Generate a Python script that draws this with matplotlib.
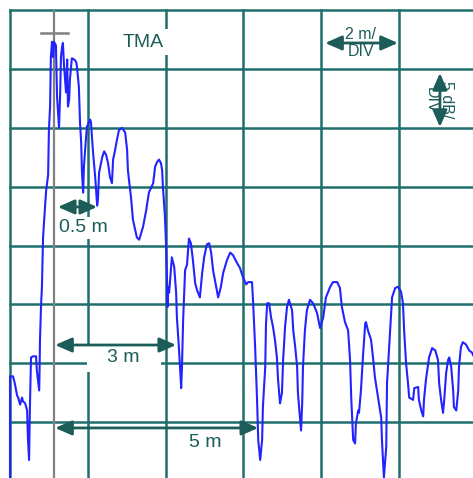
import matplotlib
matplotlib.use("Agg")
import matplotlib.pyplot as plt
from matplotlib.patches import Rectangle

plt.rcParams['font.family'] = ['Liberation Sans', 'DejaVu Sans']

# Trace data: distance (m) vs level (dB, 0 = top grid line)
distance_m = [0.00, 0.00, 0.08, 0.13, 0.18, 0.21, 0.26, 0.31, 0.33, 0.39, 0.44, 0.46, 0.49, 0.51, 0.54,
              0.59, 0.67, 0.69, 0.75, 0.76, 0.77, 0.80, 0.82, 0.85, 0.90, 0.93, 0.98, 1.00, 1.03, 1.05,
              1.08, 1.11, 1.13, 1.18, 1.21, 1.26, 1.29, 1.31, 1.34, 1.36, 1.39, 1.44, 1.47, 1.49, 1.52,
              1.54, 1.59, 1.65, 1.70, 1.72, 1.77, 1.80, 1.83, 1.85, 1.88, 1.90, 1.95, 1.98, 2.06, 2.08,
              2.13, 2.19, 2.24, 2.26, 2.29, 2.37, 2.42, 2.47, 2.52, 2.57, 2.62, 2.65, 2.70, 2.75, 2.80,
              2.88, 2.96, 3.01, 3.03, 3.11, 3.16, 3.26, 3.32, 3.42, 3.50, 3.57, 3.68, 3.73, 3.78, 3.83,
              3.88, 3.91, 3.93, 3.96, 3.98, 4.01, 4.04, 4.05, 4.06, 4.09, 4.14, 4.16, 4.22, 4.27, 4.29,
              4.34, 4.37, 4.40, 4.42, 4.45, 4.50, 4.55, 4.60, 4.65, 4.70, 4.76, 4.81, 4.88, 4.94, 4.99,
              5.06, 5.12, 5.17, 5.22, 5.30, 5.35, 5.42, 5.48, 5.58, 5.66, 5.73, 5.84, 5.91, 5.99, 6.07,
              6.12, 6.22, 6.25, 6.30, 6.35, 6.38, 6.43, 6.48, 6.50, 6.56, 6.58, 6.61, 6.66, 6.71, 6.76,
              6.81, 6.86, 6.89, 6.94, 6.99, 7.02, 7.07, 7.12, 7.17, 7.25, 7.28, 7.33, 7.38, 7.40, 7.48,
              7.51, 7.53, 7.58, 7.63, 7.71, 7.79, 7.89, 7.97, 8.05, 8.12, 8.23, 8.30, 8.41, 8.48, 8.53,
              8.61, 8.69, 8.74, 8.77, 8.82, 8.87, 8.89, 8.95, 8.97, 9.02, 9.07, 9.13, 9.15, 9.20, 9.28,
              9.33, 9.38, 9.46, 9.54, 9.56, 9.61, 9.67, 9.69, 9.74, 9.79, 9.82, 9.90, 9.97, 10.05, 10.10,
              10.13, 10.18, 10.23, 10.26, 10.36, 10.39, 10.49, 10.51, 10.57, 10.62, 10.64, 10.69, 10.75,
              10.77, 10.85, 10.93, 11.00, 11.03, 11.08, 11.13, 11.16, 11.21, 11.26, 11.29, 11.34, 11.39,
              11.41, 11.47, 11.52, 11.54, 11.59, 11.64, 11.72, 11.80, 11.88, 11.90]
level_db = [-39.7, -31.1, -31.1, -31.8, -32.7, -32.9, -33.5, -32.9, -33.2, -33.4, -34.0, -36.3, -38.2, -34.0, -29.5,
            -29.4, -29.4, -30.6, -32.3, -30.6, -28.1, -24.9, -23.6, -19.3, -16.7, -15.3, -14.0, -10.2, -8.2, -4.0,
            -2.7, -4.0, -2.7, -3.0, -7.4, -10.0, -7.0, -4.0, -3.1, -2.8, -4.8, -7.0, -4.2, -8.2, -7.6,
            -5.9, -4.1, -4.2, -4.4, -4.8, -6.5, -9.6, -11.3, -13.8, -15.5, -13.3, -11.0, -9.9, -9.3, -9.5,
            -11.9, -14.2, -16.6, -16.1, -13.8, -12.5, -12.0, -12.3, -13.0, -14.2, -14.7, -12.7, -11.9, -11.0, -10.2,
            -10.0, -10.4, -11.9, -13.6, -15.9, -17.8, -19.3, -19.5, -18.4, -17.0, -15.5, -14.7, -13.3, -12.9, -12.7,
            -13.0, -13.6, -15.0, -16.4, -17.4, -19.8, -23.5, -25.2, -23.5, -24.0, -21.8, -21.0, -21.8, -24.0, -26.1,
            -28.6, -30.3, -32.1, -30.3, -26.3, -22.1, -21.6, -19.4, -19.8, -21.2, -23.2, -23.8, -24.4, -22.3, -21.0,
            -19.9, -19.8, -20.6, -22.1, -23.5, -24.4, -23.5, -22.3, -21.2, -20.6, -20.8, -21.5, -21.9, -22.7, -23.3,
            -23.1, -23.1, -24.9, -28.6, -33.1, -36.5, -38.2, -36.5, -33.7, -30.3, -26.6, -24.9, -24.9, -26.1, -26.9,
            -28.0, -29.5, -31.4, -33.4, -32.5, -29.7, -26.9, -25.2, -24.6, -25.5, -27.2, -28.6, -30.3, -32.5, -35.7,
            -33.4, -30.3, -27.2, -25.5, -24.6, -24.9, -25.7, -27.0, -26.1, -24.4, -23.5, -23.1, -23.1, -23.6, -25.2,
            -26.5, -27.2, -29.7, -32.9, -36.5, -36.8, -35.1, -34.0, -34.2, -32.3, -29.5, -26.6, -26.5, -27.2, -28.0,
            -29.5, -31.2, -32.9, -34.6, -36.5, -39.7, -37.1, -31.7, -28.9, -26.1, -24.4, -23.6, -23.5, -23.9, -24.9,
            -27.2, -30.0, -31.7, -32.9, -33.1, -32.1, -32.0, -33.1, -34.0, -34.5, -33.1, -31.4, -30.0,
            -29.5, -28.7, -28.9, -29.7, -31.7, -33.1, -34.2, -33.1, -30.8, -29.7, -29.5, -30.3, -32.3,
            -33.7, -34.0, -32.3, -30.3, -28.6, -28.2, -28.4, -28.9, -29.1, -29.3]

x_grid_m = [0, 2, 4, 6, 8, 10]
y_grid_db = [0, -5, -10, -15, -20, -25, -30, -35]
marker_m = 1.13
marker_cap_db = -1.95

TEAL = '#1f6e6b'
TXT = '#1d5d59'

fig = plt.figure(figsize=(4.73, 4.78), dpi=100)
ax = fig.add_axes([10 / 473, 0, 463 / 473, 468 / 478])
ax.set_xlim(0, 11.90)
ax.set_ylim(-39.73, 0)
ax.axis('off')

for xv in x_grid_m:
    ax.axvline(xv, color=TEAL, lw=1.8, zorder=1, clip_on=False)
for yv in y_grid_db:
    ax.axhline(yv, color=TEAL, lw=1.8, zorder=1, clip_on=False)

# marker
ax.axvline(marker_m, color='#808080', lw=1.6, zorder=2)
ax.plot([marker_m - 0.33, marker_m + 0.36], [marker_cap_db, marker_cap_db], color='#808080', lw=1.8, zorder=2)

ax.plot(distance_m, level_db, color='#2323ff', lw=1.5, zorder=3, clip_on=False)

def darrow(x0, y0, x1, y1):
    ax.annotate('', xy=(x1, y1), xytext=(x0, y0),
                arrowprops=dict(arrowstyle='<|-|>,head_length=0.5,head_width=0.22',
                                color=TXT, lw=2, mutation_scale=20, shrinkA=0, shrinkB=0),
                zorder=6)

# TMA label
ax.text(3.42, -2.72, 'TMA', color=TXT, fontsize=14, ha='center', va='center', zorder=5,
        bbox=dict(facecolor='white', edgecolor='none', pad=3))

# 2 m / DIV
ax.text(9.02, -2.80, '2 m/\nDIV', color=TXT, fontsize=11.5, ha='center', va='center', zorder=5,
        linespacing=1.15)
darrow(8.10, -2.80, 9.97, -2.80)

# 5 dB / DIV
ax.text(11.03, -7.64, '5 dB/\nDIV', color=TXT, fontsize=11.5, ha='center', va='center', zorder=5,
        rotation=270, linespacing=1.0,
        bbox=dict(facecolor='white', edgecolor='none', pad=1))
darrow(11.05, -5.35, 11.05, -9.93)

# 0.5 m
ax.text(1.88, -18.5, '0.5 m', color=TXT, fontsize=14, ha='center', va='center', zorder=5,
        bbox=dict(facecolor='white', edgecolor='none', pad=1.5))
darrow(1.23, -16.72, 2.24, -16.72)

# 3 m
ax.add_patch(Rectangle((1.97, -30.7), 1.90, 2.3, facecolor='white', edgecolor='none', zorder=4))
ax.text(2.90, -29.5, '3 m', color=TXT, fontsize=14, ha='center', va='center', zorder=5)
darrow(1.16, -28.44, 4.27, -28.44)

# 5 m
ax.text(5.01, -36.7, '5 m', color=TXT, fontsize=14, ha='center', va='center', zorder=5)
darrow(1.16, -35.48, 6.38, -35.48)

fig.savefig('out.png', dpi=100, facecolor='white')
